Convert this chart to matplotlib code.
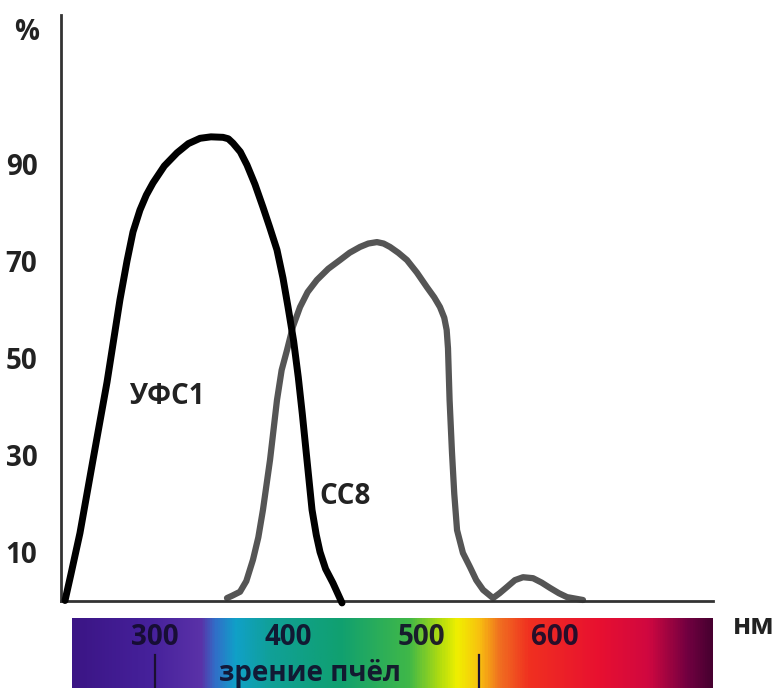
import numpy as np
import matplotlib
matplotlib.use("Agg")
import matplotlib.pyplot as plt
from matplotlib.colors import LinearSegmentedColormap

plt.rcParams['font.family'] = ['Open Sans', 'DejaVu Sans']

# ---- data ----
ufs1_nm = [232.5, 237.0, 243.7, 253.5, 264.0, 273.7, 279.0, 283.5, 288.7, 293.5, 298.5, 307.0,
           316.5, 325.0, 333.8, 342.0, 351.0, 355.0, 358.5, 364.0, 369.0, 375.0, 381.0, 386.0,
           391.5, 396.0, 399.8, 404.0, 407.5, 410.5, 414.0, 417.8, 421.0, 423.8, 428.0, 433.5, 440.3]
ufs1_val = [0.0, 5.5, 13.9, 29.0, 45.0, 62.0, 70.0, 76.0, 80.5, 83.6, 86.1, 89.6,
            92.3, 94.2, 95.3, 95.6, 95.5, 95.2, 94.3, 92.5, 89.8, 85.8, 81.1, 77.0,
            72.3, 66.5, 60.5, 53.5, 46.0, 38.5, 29.0, 18.7, 13.5, 10.0, 6.5, 3.6, -0.5]

cc8_nm = [354.0, 358.0, 363.8, 368.5, 373.5, 377.5, 381.0, 386.3, 391.5, 395.0, 399.0, 403.5,
          408.8, 414.5, 421.5, 430.0, 438.8, 446.0, 453.8, 460.0, 466.5, 471.5, 476.3, 482.5,
          489.0, 496.5, 504.0, 509.5, 513.8, 517.0, 518.8, 519.8, 521.0, 522.8, 524.5, 526.6,
          531.0, 536.3, 541.0, 546.1, 553.6, 558.5, 564.1, 570.0, 576.1, 583.6, 590.0, 596.3,
          603.0, 609.1, 621.1]
cc8_val = [0.5, 1.0, 1.8, 4.0, 8.4, 13.0, 18.7, 29.0, 41.3, 47.5, 51.6, 56.5,
           60.5, 63.6, 66.1, 68.4, 70.2, 71.7, 72.9, 73.6, 73.9, 73.6, 72.9, 71.7,
           70.2, 67.6, 64.6, 62.5, 60.5, 58.3, 55.8, 52.0, 41.3, 30.5, 22.0, 14.5,
           9.8, 6.9, 4.2, 2.2, 0.5, 1.5, 2.8, 4.2, 4.8, 4.6, 3.7, 2.6,
           1.5, 0.7, 0.1]

y_ticks = [10, 30, 50, 70, 90]
x_tick_nm = [300, 400, 500, 600]
bee_range_nm = [300, 543]

series_labels = ['УФС1', 'СС8']
y_unit = '%'
x_unit = 'нм'
bee_label = 'зрение пчёл'

# spectrum colour stops (nm, colour)
spec_nm = [237.7, 296, 333.8, 345, 360, 386, 438.8, 491, 513.8, 527, 543.8, 558.8,
           581, 633.8, 671, 701, 718.6]
spec_col = ['#3b1585', '#46219b', '#5a32a8', '#3070c8', '#10a0c8', '#10a098',
            '#10a070', '#40b848', '#b0dc10', '#f0f000', '#f8c010', '#f07020',
            '#f03020', '#e81030', '#d00840', '#700040', '#480030']

# ---- figure ----
W, H = 777, 688
fig = plt.figure(figsize=(W / 100, H / 100), dpi=100)

def px_to_nm(px):
    return 300 + (px - 155) / 1.333

# main axes: x from px 61 to 713, y from py 600.5 (0) to 15
ax = fig.add_axes([61 / W, (H - 600.5) / H, (713 - 61) / W, (600.5 - 15) / H])
ax.set_xlim(px_to_nm(61), px_to_nm(713))
ax.set_ylim(0, (600.5 - 15) / 4.85)

ax.plot(ufs1_nm, ufs1_val, color='black', lw=5, solid_capstyle='round',
        solid_joinstyle='round', clip_on=False, zorder=3)
ax.plot(cc8_nm, cc8_val, color='#555555', lw=4.5, solid_capstyle='round',
        solid_joinstyle='round', clip_on=False, zorder=2)

for s in ['top', 'right']:
    ax.spines[s].set_visible(False)
for s in ['left', 'bottom']:
    ax.spines[s].set_color('#333333')
    ax.spines[s].set_linewidth(2)

ax.set_xticks([])
ax.set_yticks(y_ticks)
ax.set_yticklabels([str(v) for v in y_ticks])
ax.tick_params(axis='y', length=0, pad=17, labelsize=20, labelcolor='#222222')
for lab in ax.get_yticklabels():
    lab.set_fontweight('bold')

txt_kw = dict(fontsize=20, fontweight='bold', color='#222222')
ax.text(px_to_nm(129), (600.5 - 397) / 4.85, series_labels[0], ha='left', va='center', **txt_kw)
ax.text(px_to_nm(319), (600.5 - 497) / 4.85, series_labels[1], ha='left', va='center', **txt_kw)
fig.text(27 / W, 1 - 33 / H, y_unit, ha='center', va='center', **txt_kw)
fig.text(754 / W, 1 - 627 / H, x_unit, ha='center', va='center', **txt_kw)

# spectrum bar
bx = fig.add_axes([72 / W, 0, (713 - 72) / W, (688 - 618) / H])
x0, x1 = spec_nm[0], spec_nm[-1]
cmap = LinearSegmentedColormap.from_list(
    'spec', [((n - x0) / (x1 - x0), c) for n, c in zip(spec_nm, spec_col)])
grad = np.linspace(0, 1, 800)[None, :]
bx.imshow(grad, aspect='auto', cmap=cmap, extent=[x0, x1, 0, 1])
bx.set_xlim(x0, x1)
bx.set_ylim(0, 1)
bx.axis('off')

for n in x_tick_nm:
    bx.text(n, 0.72, str(n), ha='center', va='center', fontsize=20,
            fontweight='bold', color='#120c2a', alpha=0.9)
for n in bee_range_nm:
    bx.plot([n, n], [0, 0.47], color='#1a1030', lw=1.6)
bx.text(px_to_nm(310), 0.2, bee_label, ha='center', va='center', fontsize=20,
        fontweight='bold', color='#120c2a', alpha=0.9)

fig.savefig('out.png', dpi=100)
